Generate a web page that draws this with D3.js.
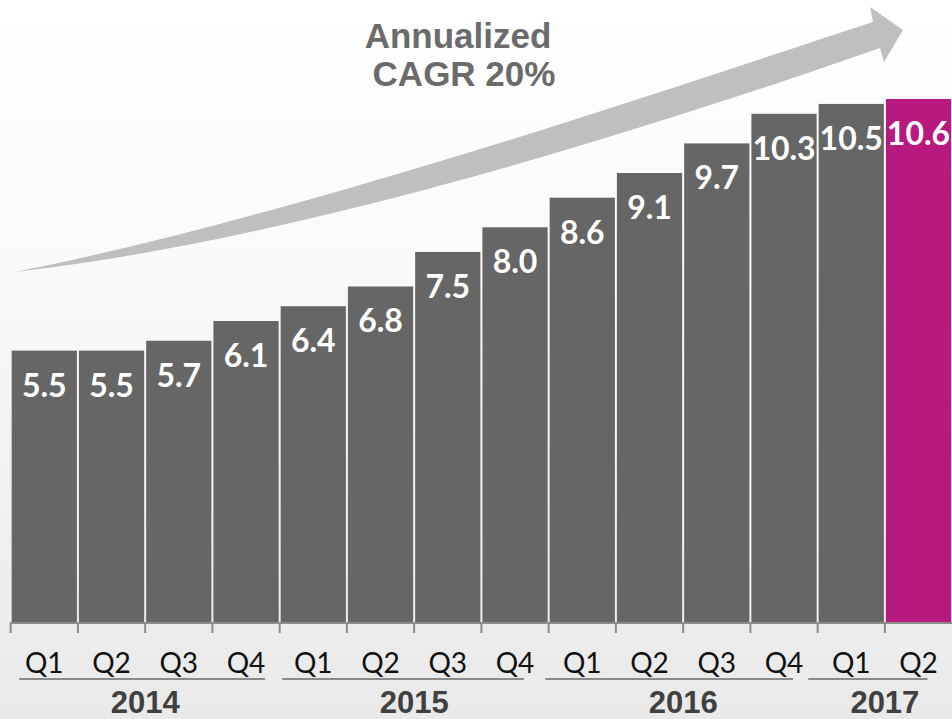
<!DOCTYPE html>
<html>
<head>
<meta charset="utf-8">
<script src="https://cdn.jsdelivr.net/npm/d3@7"></script>
<style>
  html, body { margin: 0; padding: 0; background: #fff; }
  svg { display: block; }
</style>
</head>
<body>
<svg id="chart" width="952" height="719"></svg>
<script>
// Quarterly values, 2014 Q1 through 2017 Q2
const quarters = ["Q1", "Q2", "Q3", "Q4", "Q1", "Q2", "Q3", "Q4", "Q1", "Q2", "Q3", "Q4", "Q1", "Q2"];
const years    = ["2014", "2014", "2014", "2014", "2015", "2015", "2015", "2015",
                  "2016", "2016", "2016", "2016", "2017", "2017"];
const values   = [5.5, 5.5, 5.7, 6.1, 6.4, 6.8, 7.5, 8.0, 8.6, 9.1, 9.7, 10.3, 10.5, 10.6];
const yearLabels = ["2014", "2015", "2016", "2017"];
const highlightIndex = 13;
const titleLines = ["Annualized", "CAGR 20%"];

const W = 952, H = 719;
const svg = d3.select("#chart");

// soft white-to-grey backdrop
const defs = svg.append("defs");
const grad = defs.append("linearGradient")
  .attr("id", "bg").attr("x1", 0).attr("y1", 0).attr("x2", 0).attr("y2", 1);
grad.append("stop").attr("offset", "0%").attr("stop-color", "#ffffff");
grad.append("stop").attr("offset", "35%").attr("stop-color", "#fafafa");
grad.append("stop").attr("offset", "100%").attr("stop-color", "#e9e9e9");
svg.append("rect").attr("width", W).attr("height", H).attr("fill", "url(#bg)");

const idx = values.map((d, i) => i);
const x = d3.scaleBand().domain(idx).range([11, 11 + 14 * 67.2]).paddingInner(0.03).paddingOuter(0.01);
const y = d3.scaleLinear().domain([0, 10.6]).range([622, 99]);

// growth arrow behind the bars
const arrow = svg.append("g").attr("fill", "#bfbfbf");
arrow.append("path").attr("d",
  "M15,272 C300,215 650,95 873,22 L870,7 L903,30 L884,62 L880,48 " +
  "C660,125 300,240 15,272 Z");

// headline
svg.append("g")
  .attr("font-family", "'Liberation Sans', Arial, sans-serif")
  .attr("font-weight", "bold")
  .attr("font-size", 35)
  .attr("fill", "#6b6b6b")
  .attr("text-anchor", "middle")
  .selectAll("text").data(titleLines).join("text")
  .attr("x", (d, i) => 458 + i * 6)
  .attr("y", (d, i) => 48 + i * 38)
  .text(d => d);

// bars
svg.append("g").selectAll("rect").data(values).join("rect")
  .attr("x", (d, i) => x(i))
  .attr("y", d => y(d))
  .attr("width", x.bandwidth())
  .attr("height", d => y(0) - y(d))
  .attr("fill", (d, i) => i === highlightIndex ? "#b8197f" : "#656665");

// value labels inside the bar tops
svg.append("g")
  .attr("font-family", "Lato, 'Open Sans', sans-serif")
  .attr("font-weight", "bold")
  .attr("font-size", 32)
  .attr("fill", "#ffffff")
  .attr("text-anchor", "middle")
  .selectAll("text").data(values).join("text")
  .attr("x", (d, i) => x(i) + x.bandwidth() / 2)
  .attr("y", d => y(d) + 46)
  .text(d => d.toFixed(1));

// baseline axis with ticks at bar boundaries
const step = x.step();
const axisG = svg.append("g").attr("stroke", "#8c8c8c").attr("stroke-width", 2);
axisG.append("line")
  .attr("x1", x(0) - 1).attr("x2", W).attr("y1", y(0) + 1).attr("y2", y(0) + 1);
const bounds = d3.range(0, 14).map(i => x(i) - (step - x.bandwidth()) / 2);
axisG.selectAll("line.tick").data(bounds).join("line")
  .attr("class", "tick")
  .attr("x1", d => d).attr("x2", d => d)
  .attr("y1", y(0)).attr("y2", y(0) + 11);

// quarter labels
svg.append("g")
  .attr("font-family", "Lato, 'Open Sans', sans-serif")
  .attr("font-size", 28)
  .attr("fill", "#111111")
  .attr("text-anchor", "middle")
  .selectAll("text").data(quarters).join("text")
  .attr("x", (d, i) => x(i) + x.bandwidth() / 2)
  .attr("y", 673)
  .text(d => d);

// year underlines and year labels
const groups = yearLabels.map(yr => {
  const members = idx.filter(i => years[i] === yr);
  return { yr, first: d3.min(members), last: d3.max(members) };
});
const center = i => x(i) + x.bandwidth() / 2;

svg.append("g").attr("stroke", "#8a8a8a").attr("stroke-width", 2)
  .selectAll("line").data(groups).join("line")
  .attr("x1", (g, k) => center(g.first) - 25 - k * 6)
  .attr("x2", (g, k) => center(g.last) + (k === 0 ? 19 : 9))
  .attr("y1", 679).attr("y2", 679);

svg.append("g")
  .attr("font-family", "'Liberation Sans', Arial, sans-serif")
  .attr("font-weight", "bold")
  .attr("font-size", 31)
  .attr("fill", "#404040")
  .attr("text-anchor", "middle")
  .selectAll("text").data(groups).join("text")
  .attr("x", g => (x(g.first) + x(g.last) + x.bandwidth()) / 2)
  .attr("y", 713)
  .text(g => g.yr);
</script>
</body>
</html>
